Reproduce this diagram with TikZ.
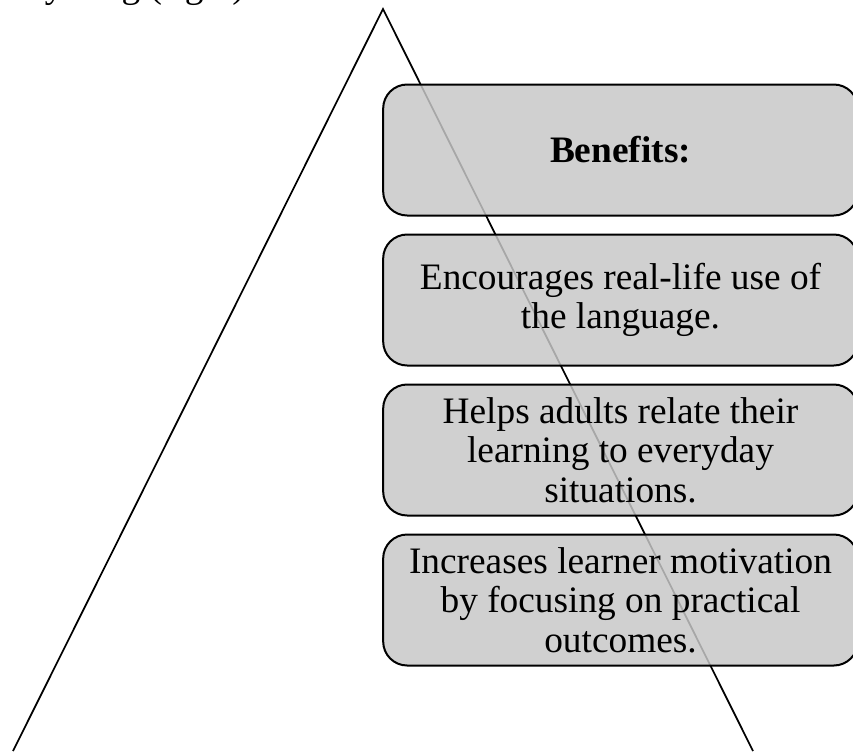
\documentclass[tikz,border=0pt]{standalone}
\usepackage{fontspec}
\setmainfont{Liberation Serif}
\usetikzlibrary{positioning}

\tikzset{
  benefitbox/.style={draw=black,line width=1.5pt,rounded corners=18pt,
    fill=black!22,fill opacity=0.84,text opacity=1,
    minimum width=356pt,minimum height=98.25pt,inner sep=0pt,
    align=center,font=\fontsize{28}{29.5}\selectfont},
}

\begin{document}
\begin{tikzpicture}[x=0.75pt,y=-0.75pt]
                              % Frame
                              \useasboundingbox (0,0) rectangle (853,751);
                              \clip (0,0) rectangle (853,751);

                              % Text cut off at the top
                              \node[anchor=base west,inner sep=0pt,font=\fontsize{28}{30}\selectfont]
                                    (top) at (-26,-3) {Everything (right)};

                              % Triangle
                              \coordinate (apex) at (383,9);
                              \coordinate (bl) at (13,751);
                              \coordinate (br) at (753,751);
                              \draw[line width=1.3pt,line join=miter] (bl) -- (apex) -- (br);

                              % Boxes
                              \node[benefitbox,font=\fontsize{28}{29.5}\selectfont\bfseries]
                                    (b0) at (620.5,150) {Benefits:};
                              \node[benefitbox,below=12.75pt of b0] (b1)
                                    {Encourages real-life use of\\the language.};
                              \node[benefitbox,below=12.75pt of b1] (b2)
                                    {Helps adults relate their\\learning to everyday\\situations.};
                              \node[benefitbox,below=12.75pt of b2] (b3)
                                    {Increases learner motivation\\by focusing on practical\\outcomes.};
                        \end{tikzpicture}
\end{document}
